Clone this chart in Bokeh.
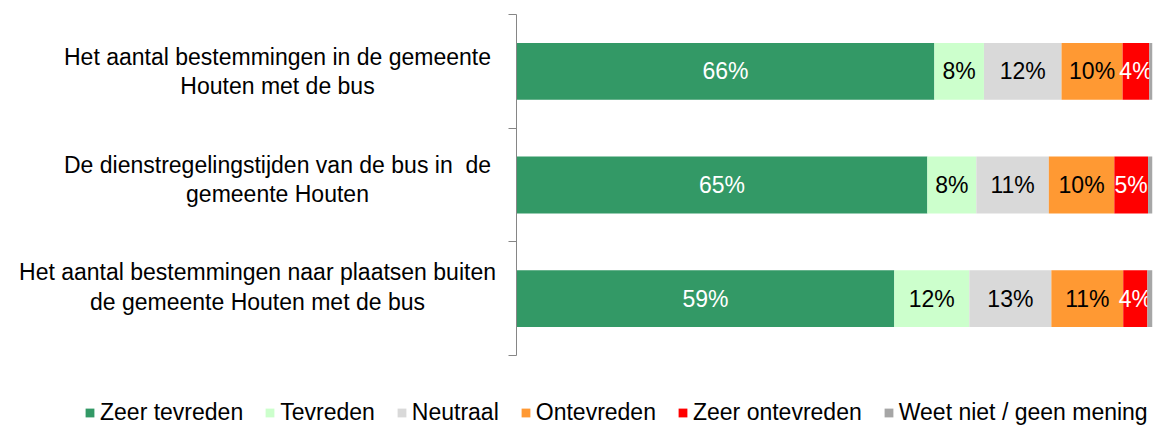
import numpy as np
from bokeh.plotting import figure
from bokeh.layouts import column, row
from bokeh.models import Range1d, FixedTicker, Legend, LegendItem, ColumnDataSource
from bokeh.core.properties import value
from bokeh.embed import file_html
from bokeh.resources import INLINE

# ---- data ----
statements = [
    "Het aantal bestemmingen in de gemeente\nHouten met de bus",
    "De dienstregelingstijden van de bus in \u00a0de\ngemeente Houten",
    "Het aantal bestemmingen naar plaatsen buiten\nde gemeente Houten met de bus",
]
categories = ["Zeer tevreden", "Tevreden", "Neutraal", "Ontevreden",
              "Zeer ontevreden", "Weet niet / geen mening"]
zeer_tevreden = [65.7, 64.6, 59.4]
tevreden = [7.8, 7.7, 11.8]
neutraal = [12.2, 11.4, 12.9]
ontevreden = [9.6, 10.3, 11.3]
zeer_ontevreden = [4.2, 5.3, 3.8]
weet_niet = [0.5, 0.7, 0.8]

series = [zeer_tevreden, tevreden, neutraal, ontevreden, zeer_ontevreden, weet_niet]
colors = ["#339966", "#CCFFCC", "#D9D9D9", "#FF9933", "#FF0000", "#A6A6A6"]
label_colors = ["white", "black", "black", "black", "white", None]

FONT = "Liberation Sans"
FS = "23px"
n = len(statements)
ypos = np.array([n - i - 0.5 for i in range(n)])  # top row first

TOP_H = 360
B_TOP, B_BOT = 14, 5
px_per_unit = (TOP_H - B_TOP - B_BOT) / n


def bare(fig):
    fig.xaxis.visible = False
    fig.yaxis.visible = False
    fig.xgrid.visible = False
    fig.ygrid.visible = False
    fig.outline_line_color = None
    fig.background_fill_color = None
    fig.border_fill_color = "white"


# ---- main bar chart ----
p = figure(width=657, height=TOP_H, output_backend="svg", toolbar_location=None,
           x_range=Range1d(0, 100), y_range=Range1d(0, n),
           min_border_left=9, min_border_right=10, min_border_top=B_TOP,
           min_border_bottom=B_BOT)
p.xaxis.visible = False
p.xgrid.visible = False
p.ygrid.visible = False
p.outline_line_color = None
p.background_fill_color = None
p.border_fill_color = "white"

ax = p.yaxis[0]
ticks = list(range(n + 1))
ax.ticker = FixedTicker(ticks=ticks)
ax.major_label_overrides = {t: " " for t in ticks}
ax.major_label_text_font_size = "1px"
ax.major_label_standoff = 0
ax.axis_line_color = "#868686"
ax.major_tick_line_color = "#868686"
ax.major_tick_out = 8
ax.major_tick_in = 0
ax.minor_tick_line_color = None

left = np.zeros(n)
for k, (vals, col, lc) in enumerate(zip(series, colors, label_colors)):
    vals = np.array(vals)
    right = left + vals
    src = ColumnDataSource(dict(y=ypos, left=left, right=right,
                                xc=(left + right) / 2,
                                txt=[f"{round(v):d}%" for v in vals]))
    p.hbar(y="y", left="left", right="right", height=0.5, source=src,
           fill_color=col, line_color=None)
    if lc is not None:
        p.text(x="xc", y="y", text="txt", source=src, text_align="center",
               text_baseline="middle", text_color=lc, text_font=value(FONT),
               text_font_size=FS)
    left = right

# ---- statement labels (left panel, pixel-based x, same y scale) ----
LAB_W = 505
y_top = n + B_TOP / px_per_unit
y_bot = -B_BOT / px_per_unit
lab = figure(width=LAB_W, height=TOP_H, output_backend="svg", toolbar_location=None,
             x_range=Range1d(0, LAB_W), y_range=Range1d(y_bot, y_top),
             min_border=0)
bare(lab)
centers = [277, 277, 257]
lab.text(x=centers, y=list(ypos), text=statements, text_align="center",
         text_baseline="middle", text_font=value(FONT), text_font_size=FS,
         text_color="black", text_line_height=1.13, y_offset=-10)

# ---- legend panel ----
LEG_H = 426 - TOP_H
leg = figure(width=1162, height=LEG_H, output_backend="svg", toolbar_location=None,
             x_range=Range1d(0, 1), y_range=Range1d(0, 1), min_border=0)
bare(leg)
items = []
for cat, col in zip(categories, colors):
    # legend swatches only: bar kept outside the visible range
    r = leg.hbar(y=[-5], left=[0], right=[1], height=1, fill_color=col, line_color=None)
    items.append(LegendItem(label=cat, renderers=[r]))
legend = Legend(items=items, orientation="horizontal", location=(84, 0),
                glyph_width=11, glyph_height=11, label_standoff=5, spacing=21,
                padding=0, margin=0, border_line_alpha=0, background_fill_alpha=0,
                label_text_font=FONT, label_text_font_size=FS,
                label_text_color="black")
leg.add_layout(legend, "center")

layout = column(row(lab, p), leg)
open("out.html", "w").write(file_html(layout, INLINE))
